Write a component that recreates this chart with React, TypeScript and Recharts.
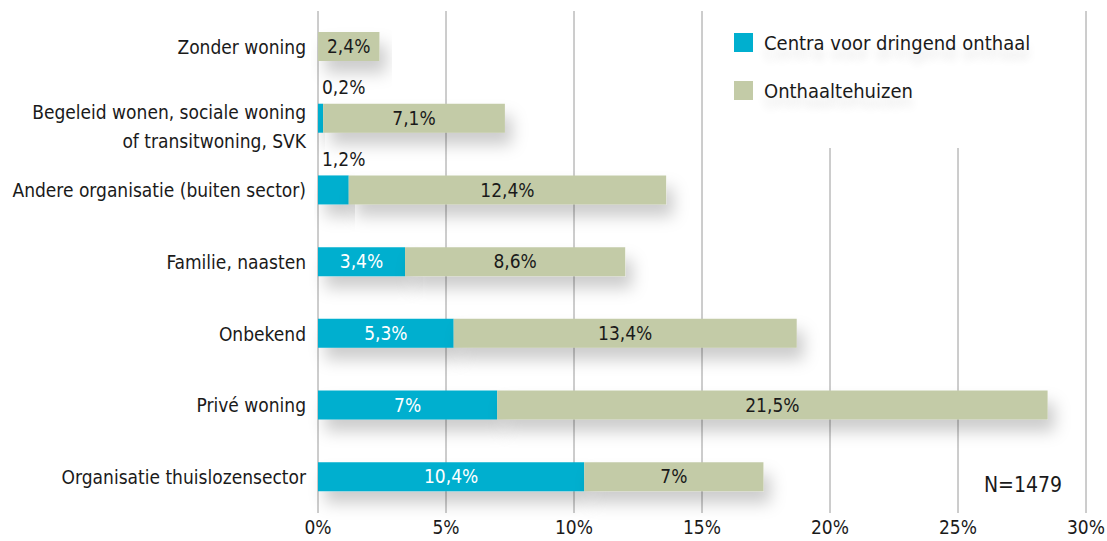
import { BarChart, Bar, XAxis, YAxis, CartesianGrid, Legend, LabelList } from 'recharts';

const categories = [
  'Zonder woning',
  'Begeleid wonen, sociale woning\nof transitwoning, SVK',
  'Andere organisatie (buiten sector)',
  'Familie, naasten',
  'Onbekend',
  'Privé woning',
  'Organisatie thuislozensector',
];
const centraValues = [0, 0.2, 1.2, 3.4, 5.3, 7, 10.4];
const onthaalValues = [2.4, 7.1, 12.4, 8.6, 13.4, 21.5, 7];
const xTicks = [0, 5, 10, 15, 20, 25, 30];

const BLUE = '#00afcf';
const GREEN = '#c3cba7';
const FONT = "'DejaVu Sans Condensed', 'Noto Sans', sans-serif";
const FS = 19;

const data = categories.map((name, i) => ({
  name,
  centra: centraValues[i],
  onthaal: onthaalValues[i],
}));

const fmt = (v: number) => `${String(v).replace('.', ',')}%`;

const CategoryTick = (props: any) => {
  const { x, y, payload } = props;
  const lines = String(payload.value).split('\n');
  return (
    <text x={x} y={y} textAnchor="end" fill="#1a1a1a" fontSize={FS} fontFamily={FONT}>
      {lines.map((l, i) => (
        <tspan key={i} x={x} dy={i === 0 ? (lines.length > 1 ? 0 : 7) : 29}>
          {l}
        </tspan>
      ))}
    </text>
  );
};

const CentraLabel = (props: any) => {
  const { x, y, width, height, value } = props;
  if (!value) return null;
  if (value < 2) {
    return (
      <text x={x + 4} y={y - 16} dy="0.35em" fill="#1a1a1a" fontSize={FS} fontFamily={FONT}>
        {fmt(value)}
      </text>
    );
  }
  return (
    <text x={x + width / 2} y={y + height / 2} dy="0.35em" textAnchor="middle" fill="#ffffff" fontSize={FS} fontFamily={FONT}>
      {fmt(value)}
    </text>
  );
};

const OnthaalLabel = (props: any) => {
  const { x, y, width, height, value } = props;
  return (
    <text x={x + width / 2} y={y + height / 2} dy="0.35em" textAnchor="middle" fill="#1a1a1a" fontSize={FS} fontFamily={FONT}>
      {fmt(value)}
    </text>
  );
};

const LegendBox = () => {
  const items = [
    { label: 'Centra voor dringend onthaal', color: BLUE },
    { label: 'Onthaaltehuizen', color: GREEN },
  ];
  return (
    <div style={{ width: 345, height: 148, background: '#fff', position: 'relative', fontFamily: FONT }}>
      {items.map((it, i) => (
        <div key={it.label} style={{ position: 'absolute', left: 2, top: 33 + i * 48, display: 'flex', alignItems: 'center', height: 19 }}>
          <span style={{ width: 19, height: 19, background: it.color, display: 'inline-block' }} />
          <span style={{ marginLeft: 11, fontSize: 20, color: '#1a1a1a', whiteSpace: 'nowrap', textShadow: '0 10px 8px rgba(0,0,0,0.12)' }}>
            {it.label}
          </span>
        </div>
      ))}
    </div>
  );
};

export default function App() {
  return (
    <div style={{ width: 1107, height: 541, overflow: 'hidden' }}>
      <style>{'body{margin:0;overflow:hidden}'}</style>
      <BarChart
        width={1107}
        height={541}
        data={data}
        layout="vertical"
        margin={{ top: 11, right: 21, bottom: 0, left: 0 }}
        barSize={29}
      >
        <defs>
          <filter id="barShadow" x="-10%" y="-60%" width="130%" height="300%">
            <feDropShadow dx="7" dy="12" stdDeviation="8" floodColor="#000" floodOpacity="0.2" />
          </filter>
        </defs>
        <CartesianGrid horizontal={false} stroke="#9a9a9a" strokeWidth={1} />
        <XAxis
          type="number"
          domain={[0, 30]}
          ticks={xTicks}
          tickFormatter={(v) => `${v}%`}
          axisLine={false}
          tickLine={false}
          height={28}
          tick={{ fontSize: FS, fill: '#1a1a1a', fontFamily: FONT }}
        />
        <YAxis
          type="category"
          dataKey="name"
          width={318}
          axisLine={false}
          tickLine={false}
          tickMargin={6}
          interval={0}
          tick={<CategoryTick />}
        />
        <Legend
          verticalAlign="top"
          content={<LegendBox />}
          wrapperStyle={{ position: 'absolute', left: 732, top: 0, width: 0, height: 0, overflow: 'visible' }}
        />
        <Bar dataKey="centra" stackId="a" fill={BLUE} isAnimationActive={false} style={{ filter: 'url(#barShadow)' }}>
          <LabelList dataKey="centra" content={<CentraLabel />} />
        </Bar>
        <Bar dataKey="onthaal" stackId="a" fill={GREEN} isAnimationActive={false} style={{ filter: 'url(#barShadow)' }}>
          <LabelList dataKey="onthaal" content={<OnthaalLabel />} />
        </Bar>
        <text x={1023} y={485} dy="0.35em" textAnchor="middle" fill="#1a1a1a" fontSize={21} fontFamily={FONT}>
          N=1479
        </text>
      </BarChart>
    </div>
  );
}
